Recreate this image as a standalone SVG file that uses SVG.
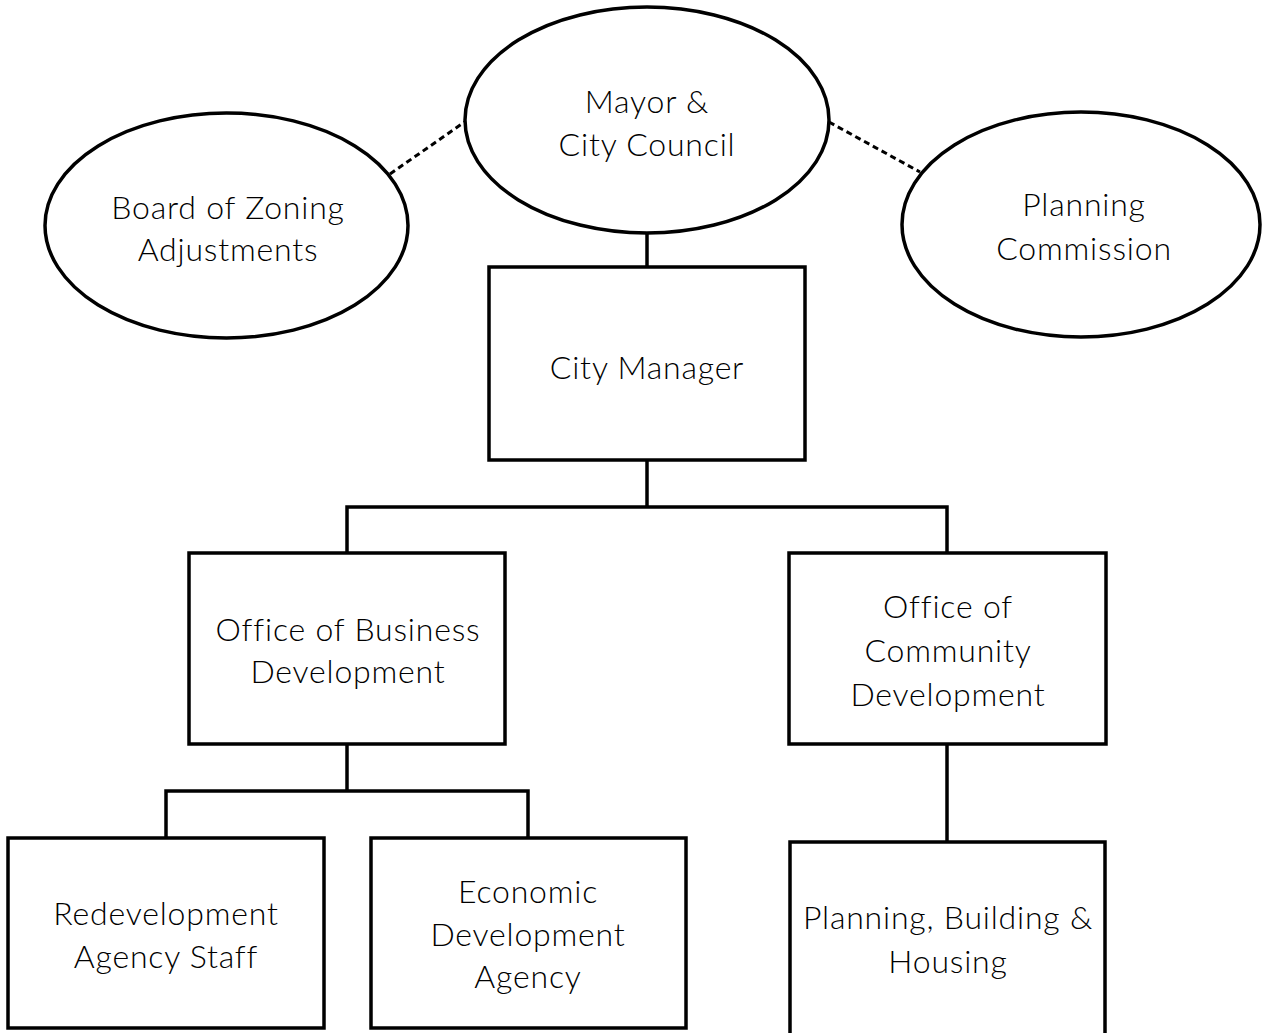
<svg xmlns="http://www.w3.org/2000/svg" width="1262" height="1033" viewBox="0 0 1262 1033">
<style>
.shape{fill:#fff;stroke:#000;stroke-width:3.5}
.conn{fill:none;stroke:#000;stroke-width:3.5}
.dash{fill:none;stroke:#000;stroke-width:3;stroke-dasharray:6 4}
text{font-family:"Lato","Liberation Sans",sans-serif;font-weight:300;font-size:32px;letter-spacing:0.8px;fill:#000;text-anchor:middle}
</style>
<rect width="1262" height="1033" fill="#fff"/>
<g id="connectors">
<line class="dash" x1="390" y1="174" x2="466" y2="121"/>
<line class="dash" x1="829" y1="122" x2="920" y2="172"/>
<line class="conn" x1="647" y1="232" x2="647" y2="268"/>
<polyline class="conn" points="347,553 347,507 947,507 947,553"/>
<line class="conn" x1="647" y1="460" x2="647" y2="507"/>
<polyline class="conn" points="166,838 166,791 528,791 528,838"/>
<line class="conn" x1="347" y1="744" x2="347" y2="791"/>
<line class="conn" x1="947" y1="744" x2="947" y2="843"/>
</g>
<g id="board">
<ellipse class="shape" cx="226.5" cy="225.5" rx="181.5" ry="112.5"/>
<text x="228" y="219">Board of Zoning</text>
<text x="228" y="261">Adjustments</text>
</g>
<g id="mayor">
<ellipse class="shape" cx="647" cy="120" rx="182" ry="113"/>
<text x="647" y="113">Mayor &amp;</text>
<text x="647" y="156">City Council</text>
</g>
<g id="planning-commission">
<ellipse class="shape" cx="1081" cy="224.5" rx="179" ry="112.5"/>
<text x="1084" y="216">Planning</text>
<text x="1084" y="260">Commission</text>
</g>
<g id="city-manager">
<rect class="shape" x="489" y="267" width="316" height="193"/>
<text x="647" y="379">City Manager</text>
</g>
<g id="obd">
<rect class="shape" x="189" y="553" width="316" height="191"/>
<text x="348" y="641">Office of Business</text>
<text x="348" y="683">Development</text>
</g>
<g id="ocd">
<rect class="shape" x="789" y="553" width="317" height="191"/>
<text x="948" y="618">Office of</text>
<text x="948" y="662">Community</text>
<text x="948" y="706">Development</text>
</g>
<g id="redevelopment">
<rect class="shape" x="8" y="838" width="316" height="190"/>
<text x="166" y="925">Redevelopment</text>
<text x="166" y="968">Agency Staff</text>
</g>
<g id="economic">
<rect class="shape" x="371" y="838" width="315" height="190"/>
<text x="528" y="903">Economic</text>
<text x="528" y="946">Development</text>
<text x="528" y="988">Agency</text>
</g>
<g id="pbh">
<rect class="shape" x="790" y="842" width="315" height="200"/>
<text x="948" y="929">Planning, Building &amp;</text>
<text x="948" y="973">Housing</text>
</g>
</svg>
